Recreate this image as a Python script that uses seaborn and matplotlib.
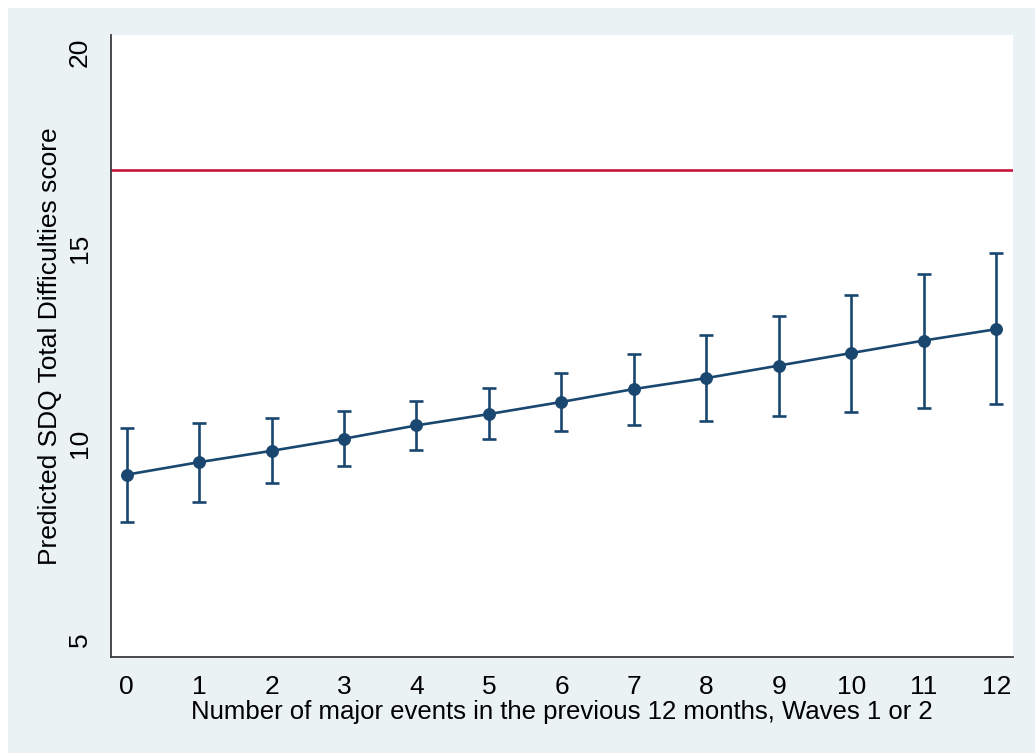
import matplotlib
matplotlib.use("Agg")
import matplotlib.pyplot as plt
from matplotlib.patches import Rectangle
import numpy as np
import pandas as pd
import seaborn as sns

# Predicted scores with 95% confidence limits by number of events
events = list(range(13))
predicted = [9.21, 9.53, 9.82, 10.13, 10.47, 10.76, 11.07, 11.40, 11.68, 12.00, 12.32, 12.64, 12.93]
ci_lower = [8.01, 8.51, 9.01, 9.43, 9.83, 10.12, 10.32, 10.48, 10.59, 10.72, 10.82, 10.92, 11.01]
ci_upper = [10.40, 10.53, 10.66, 10.84, 11.10, 11.42, 11.82, 12.29, 12.78, 13.27, 13.80, 14.34, 14.87]
threshold = 17
y_ticks = [5, 10, 15, 20]

NAVY = "#1A476F"
BG = "#EAF2F3"
AXIS_GREY = "#3C3C3C"

sns.set_theme(style="white")
plt.rcParams["font.family"] = ["Liberation Sans", "DejaVu Sans"]

df = pd.DataFrame({"events": events, "predicted": predicted,
                   "lo": ci_lower, "hi": ci_upper})

fig = plt.figure(figsize=(10.35, 7.53), dpi=100, facecolor="white")
fig.patches.append(Rectangle((8 / 1035, 0), 1, 1 - 8 / 753,
                             transform=fig.transFigure, facecolor=BG,
                             edgecolor="none", zorder=-10))
ax = fig.add_axes([111 / 1035, 1 - 657 / 753, (1013 - 111) / 1035, (657 - 35) / 753])
ax.set_facecolor("white")

ax.axhline(threshold, color="#C8143C", lw=1.9, zorder=1)

yerr = np.vstack([df["predicted"] - df["lo"], df["hi"] - df["predicted"]])
ax.errorbar(df["events"], df["predicted"], yerr=yerr, fmt="none",
            ecolor=NAVY, elinewidth=1.9, capsize=4.8, capthick=1.9, zorder=2)
sns.lineplot(data=df, x="events", y="predicted", ax=ax, color=NAVY,
             lw=1.9, marker="o", markersize=8.5, markeredgecolor=NAVY,
             markerfacecolor=NAVY, zorder=3)

ax.set_xlim(-0.215, 12.23)
ax.set_ylim(4.55, 20.45)
ax.set_xticks(events)
ax.set_yticks(y_ticks)
ax.set_yticklabels([str(v) for v in y_ticks], rotation=90, va="center")

for side in ("top", "right"):
    ax.spines[side].set_visible(False)
for side in ("left", "bottom"):
    ax.spines[side].set_color(AXIS_GREY)
    ax.spines[side].set_linewidth(1.3)

ax.tick_params(axis="both", direction="out", length=8, width=1.2,
               color=AXIS_GREY, labelsize=19, labelcolor="black")
ax.tick_params(axis="x", pad=5)
ax.tick_params(axis="y", pad=6)

ax.set_xlabel("Number of major events in the previous 12 months, Waves 1 or 2",
              fontsize=18.5, color="black", labelpad=1)
ax.set_ylabel("Predicted SDQ Total Difficulties score", fontsize=19,
              color="black", labelpad=4)

fig.savefig("out.png", dpi=100, facecolor=fig.get_facecolor())
